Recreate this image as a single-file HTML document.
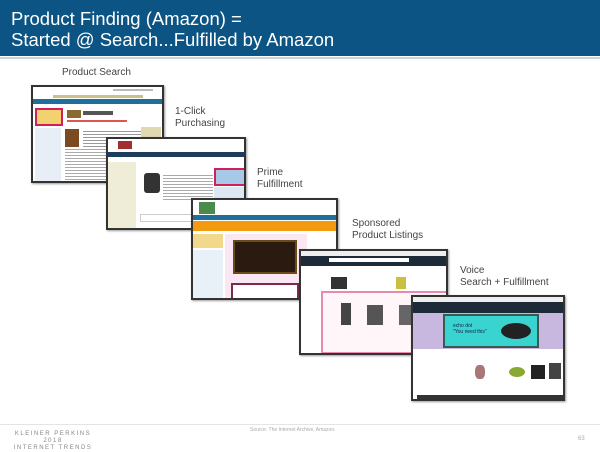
<!DOCTYPE html>
<html><head><meta charset="utf-8"><style>
*{margin:0;padding:0;box-sizing:border-box}
body{width:600px;height:450px;background:#fff;position:relative;overflow:hidden;font-family:"Liberation Sans",sans-serif}
.a{position:absolute}
.hdr{left:0;top:0;width:600px;height:56px;background:#0b5483;color:#fff;font-size:18.5px;line-height:21px;padding:8px 0 0 11px}
.lbl{font-size:10px;color:#444;line-height:12px}
.ss{position:absolute;background:#fff;border:2px solid #333;box-shadow:1px 1px 2px rgba(0,0,0,.4);overflow:hidden}
.b{position:absolute}
</style></head><body>
<div class="a hdr">Product Finding (Amazon) =<br>Started @ Search...Fulfilled by Amazon</div>
<div class="a" style="left:0;top:57px;width:600px;height:2px;background:#c8d4e0"></div>
<div class="a lbl" style="left:62px;top:67px">Product Search</div>
<div class="a lbl" style="left:175px;top:106px">1-Click<br>Purchasing</div>
<div class="a lbl" style="left:257px;top:167px">Prime<br>Fulfillment</div>
<div class="a lbl" style="left:352px;top:218px">Sponsored<br>Product Listings</div>
<div class="a lbl" style="left:460px;top:265px">Voice<br>Search + Fulfillment</div>

<!-- ss1 -->
<div class="ss" style="left:31px;top:85px;width:133px;height:98px">
<div class="b" style="left:80px;top:2px;width:40px;height:2px;background:#bbb"></div>
<div class="b" style="left:20px;top:8px;width:90px;height:3px;background:#c9c08a"></div>
<div class="b" style="left:0;top:12px;width:130px;height:5px;background:#1f6f9a"></div>
<div class="b" style="left:2px;top:21px;width:28px;height:18px;border:2px solid #d0205a;background:#f3d070"></div>
<div class="b" style="left:34px;top:23px;width:14px;height:8px;background:#8a6a30"></div>
<div class="b" style="left:50px;top:24px;width:30px;height:4px;background:#555"></div>
<div class="b" style="left:34px;top:33px;width:60px;height:2px;background:#d55"></div>
<div class="b" style="left:2px;top:41px;width:26px;height:55px;background:#e8eef5"></div>
<div class="b" style="left:32px;top:42px;width:14px;height:18px;background:#7a4a20"></div>
<div class="b" style="left:50px;top:44px;width:58px;height:16px;background:repeating-linear-gradient(#999 0 1px,#fff 1px 3px)"></div>
<div class="b" style="left:108px;top:40px;width:20px;height:14px;background:#e0d8b0"></div>
<div class="b" style="left:32px;top:62px;width:70px;height:32px;background:repeating-linear-gradient(#aaa 0 1px,#fff 1px 3px)"></div>
</div>
<!-- ss2 -->
<div class="ss" style="left:106px;top:137px;width:140px;height:93px">
<div class="b" style="left:10px;top:2px;width:14px;height:8px;background:#a03030"></div>
<div class="b" style="left:0;top:13px;width:140px;height:5px;background:#1d3d5c"></div>
<div class="b" style="left:0;top:23px;width:28px;height:66px;background:#efecd8"></div>
<div class="b" style="left:36px;top:34px;width:16px;height:20px;background:#333;border-radius:3px"></div>
<div class="b" style="left:55px;top:36px;width:50px;height:26px;background:repeating-linear-gradient(#aaa 0 1px,#fff 1px 3px)"></div>
<div class="b" style="left:106px;top:29px;width:32px;height:18px;border:2px solid #d0205a;background:#a8c8e8"></div>
<div class="b" style="left:106px;top:48px;width:32px;height:20px;background:#dde8f2"></div>
<div class="b" style="left:32px;top:75px;width:100px;height:8px;border:1px solid #ccc"></div>
</div>
<!-- ss3 -->
<div class="ss" style="left:191px;top:198px;width:147px;height:102px">
<div class="b" style="left:6px;top:2px;width:16px;height:12px;background:#4a8a4a"></div>
<div class="b" style="left:0;top:15px;width:147px;height:5px;background:#1f6f9a"></div>
<div class="b" style="left:0;top:21px;width:147px;height:10px;background:#f39a10"></div>
<div class="b" style="left:32px;top:34px;width:82px;height:66px;background:#fbe6f4"></div>
<div class="b" style="left:0;top:34px;width:30px;height:14px;background:#f2d88a"></div>
<div class="b" style="left:0;top:50px;width:30px;height:50px;background:#e8f0f8"></div>
<div class="b" style="left:40px;top:40px;width:64px;height:34px;background:#2a1a10;border:2px solid #6a4a18"></div>
<div class="b" style="left:38px;top:83px;width:68px;height:17px;border:2px solid #7a2a4a;background:#fff"></div>
</div>
<!-- ss4 -->
<div class="ss" style="left:299px;top:249px;width:149px;height:106px">
<div class="b" style="left:0;top:0;width:149px;height:5px;background:#eee"></div>
<div class="b" style="left:0;top:5px;width:149px;height:10px;background:#1d2b38"></div>
<div class="b" style="left:28px;top:7px;width:80px;height:4px;background:#fff"></div>
<div class="b" style="left:30px;top:26px;width:16px;height:12px;background:#333"></div>
<div class="b" style="left:95px;top:26px;width:10px;height:12px;background:#c9c040"></div>
<div class="b" style="left:20px;top:40px;width:127px;height:63px;border:2px solid #e88ab0;background:#fff6fa"></div>
<div class="b" style="left:40px;top:52px;width:10px;height:22px;background:#444"></div>
<div class="b" style="left:66px;top:54px;width:16px;height:20px;background:#555"></div>
<div class="b" style="left:98px;top:54px;width:14px;height:20px;background:#666"></div>
</div>
<!-- ss5 -->
<div class="ss" style="left:411px;top:295px;width:154px;height:106px">
<div class="b" style="left:0;top:0;width:154px;height:5px;background:#eee"></div>
<div class="b" style="left:0;top:5px;width:154px;height:11px;background:#1d2b38"></div>
<div class="b" style="left:0;top:16px;width:154px;height:36px;background:#c8b8e0"></div>
<div class="b" style="left:30px;top:17px;width:96px;height:34px;background:#3ad4d0;border:2px solid #3a5a50"></div>
<div class="b" style="left:88px;top:26px;width:30px;height:16px;background:#222;border-radius:50%"></div>
<div class="b" style="left:40px;top:26px;width:40px;height:14px;font-size:5px;color:#124">echo dot<br>"You need this"</div>
<div class="b" style="left:62px;top:68px;width:10px;height:14px;background:#a77;border-radius:40%"></div>
<div class="b" style="left:96px;top:70px;width:16px;height:10px;background:#8a3;border-radius:50%"></div>
<div class="b" style="left:118px;top:68px;width:14px;height:14px;background:#222"></div>
<div class="b" style="left:136px;top:66px;width:12px;height:16px;background:#444"></div>
<div class="b" style="left:4px;top:98px;width:146px;height:5px;background:#333"></div>
</div>

<div class="a" style="left:0;top:424px;width:600px;height:1px;background:#e4e4e4"></div>
<div class="a" style="left:250px;top:427px;font-size:5px;color:#aaa">Source: The Internet Archive, Amazon.</div>
<div class="a" style="left:8px;top:431px;width:90px;text-align:center;font-size:6px;line-height:7px;color:#888;letter-spacing:1.5px">KLEINER PERKINS<br>2018<br>INTERNET TRENDS</div>
<div class="a" style="left:578px;top:436px;font-size:6px;color:#aaa">63</div>
</body></html>
